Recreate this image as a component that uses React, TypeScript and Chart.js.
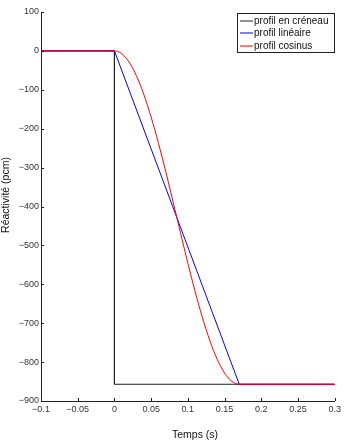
import React, { useEffect, useRef } from "react";
import { Chart, registerables } from "chart.js";

Chart.register(...registerables);

// Profil en créneau (step)
const stepT = [-0.1, 0, 0, 0.3];
const stepR = [0, 0, -857, -857];

// Profil linéaire
const linT = [-0.1, 0, 0.17, 0.3];
const linR = [0, 0, -857, -857];

// Profil cosinus
const cosT = [-0.1, 0, 0.01, 0.02, 0.03, 0.04, 0.05, 0.06, 0.07, 0.08, 0.09, 0.1, 0.11, 0.12, 0.13, 0.14, 0.15, 0.16, 0.17, 0.3];
const cosR = [0, 0, -7.3, -28.9, -64.2, -111.8, -170.3, -237.5, -311.2, -389.0, -468.0, -545.8, -619.5, -686.7, -745.2, -792.8, -828.1, -849.7, -857, -857];

const xTicksMin = -0.1;
const xTicksMax = 0.3;
const xStep = 0.05;
const yTicksMin = -900;
const yTicksMax = 100;
const yStep = 100;

const seriesLabels = ["profil en créneau", "profil linéaire", "profil cosinus"];
const seriesColors = ["#222222", "#0000ff", "#ff0000"];
const xTitle = "Temps (s)";
const yTitle = "Réactivité (pcm)";

const FONT = "Arial, 'Liberation Sans', Helvetica, sans-serif";

const toPts = (t: number[], r: number[]) => t.map((x, i) => ({ x, y: r[i] }));

const fmt = (v: number) => {
  const r = Math.round(v * 1000) / 1000;
  return String(r).replace("-", "\u2212");
};

const decorPlugin = {
  id: "decor",
  afterDraw(chart: any) {
    const ctx = chart.ctx;
    const ca = chart.chartArea;
    const xs = chart.scales.x;
    const ys = chart.scales.y;
    ctx.save();
    // inward ticks
    ctx.strokeStyle = "#222";
    ctx.lineWidth = 1;
    ctx.beginPath();
    xs.ticks.forEach((t: any) => {
      const px = Math.round(xs.getPixelForValue(t.value)) + 0.5;
      ctx.moveTo(px, ca.bottom);
      ctx.lineTo(px, ca.bottom - 3);
    });
    ys.ticks.forEach((t: any) => {
      const py = Math.round(ys.getPixelForValue(t.value)) + 0.5;
      ctx.moveTo(ca.left, py);
      ctx.lineTo(ca.left + 3, py);
    });
    ctx.stroke();

    // axis titles
    ctx.fillStyle = "#111";
    ctx.font = `10.5px ${FONT}`;
    ctx.textAlign = "center";
    ctx.textBaseline = "middle";
    ctx.fillText(xTitle, 195, 435);
    ctx.save();
    ctx.translate(6, 195);
    ctx.rotate(-Math.PI / 2);
    ctx.fillText(yTitle, 0, 0);
    ctx.restore();

    // legend
    const lx = 237, ly = 13, lw = 98, lh = 40;
    ctx.fillStyle = "#fff";
    ctx.fillRect(lx, ly, lw, lh);
    ctx.strokeStyle = "#222";
    ctx.strokeRect(lx + 0.5, ly + 0.5, lw - 1, lh - 1);
    const rows = [21, 33, 46];
    ctx.textAlign = "left";
    ctx.font = `10px ${FONT}`;
    seriesLabels.forEach((lab, i) => {
      ctx.strokeStyle = seriesColors[i];
      ctx.beginPath();
      ctx.moveTo(240, rows[i]);
      ctx.lineTo(253, rows[i]);
      ctx.stroke();
      ctx.fillStyle = "#111";
      ctx.fillText(lab, 254, rows[i] + 0.5);
    });
    ctx.restore();
  },
};

export default function App() {
  const ref = useRef<HTMLCanvasElement | null>(null);
  useEffect(() => {
    if (!ref.current) return;
    const common = { fill: false, pointRadius: 0, borderWidth: 1, tension: 0 };
    const chart = new Chart(ref.current, {
      type: "line",
      data: {
        datasets: [
          { ...common, label: seriesLabels[0], data: toPts(stepT, stepR), borderColor: seriesColors[0], order: 3 },
          { ...common, label: seriesLabels[1], data: toPts(linT, linR), borderColor: seriesColors[1], order: 2 },
          { ...common, label: seriesLabels[2], data: toPts(cosT, cosR), borderColor: seriesColors[2], order: 1, cubicInterpolationMode: "monotone" },
        ] as any,
      },
      options: {
        animation: false,
        responsive: false,
        devicePixelRatio: 1,
        layout: { padding: { top: 12, right: 8, left: 0, bottom: 0 } },
        plugins: { legend: { display: false }, tooltip: { enabled: false } },
        scales: {
          x: {
            type: "linear",
            min: xTicksMin,
            max: xTicksMax,
            afterFit: (s: any) => { s.height = 42; },
            grid: { drawOnChartArea: false, drawTicks: false },
            border: { display: true, color: "#222", width: 1 },
            ticks: {
              stepSize: xStep,
              padding: 3,
              maxRotation: 0,
              autoSkip: false,
              color: "#333",
              font: { family: FONT, size: 9 },
              callback: (v: any) => fmt(Number(v)),
            },
          },
          y: {
            type: "linear",
            min: yTicksMin,
            max: yTicksMax,
            afterFit: (s: any) => { s.width = 41; },
            grid: { drawOnChartArea: false, drawTicks: false },
            border: { display: true, color: "#222", width: 1 },
            ticks: {
              stepSize: yStep,
              padding: 2,
              autoSkip: false,
              color: "#333",
              font: { family: FONT, size: 9 },
              callback: (v: any) => fmt(Number(v)),
            },
          },
        },
      },
      plugins: [decorPlugin],
    });
    return () => chart.destroy();
  }, []);
  return (
    <div style={{ position: "absolute", left: 0, top: 0, width: 344, height: 443, background: "#fff" }}>
      <canvas ref={ref} width={344} height={443} />
    </div>
  );
}
